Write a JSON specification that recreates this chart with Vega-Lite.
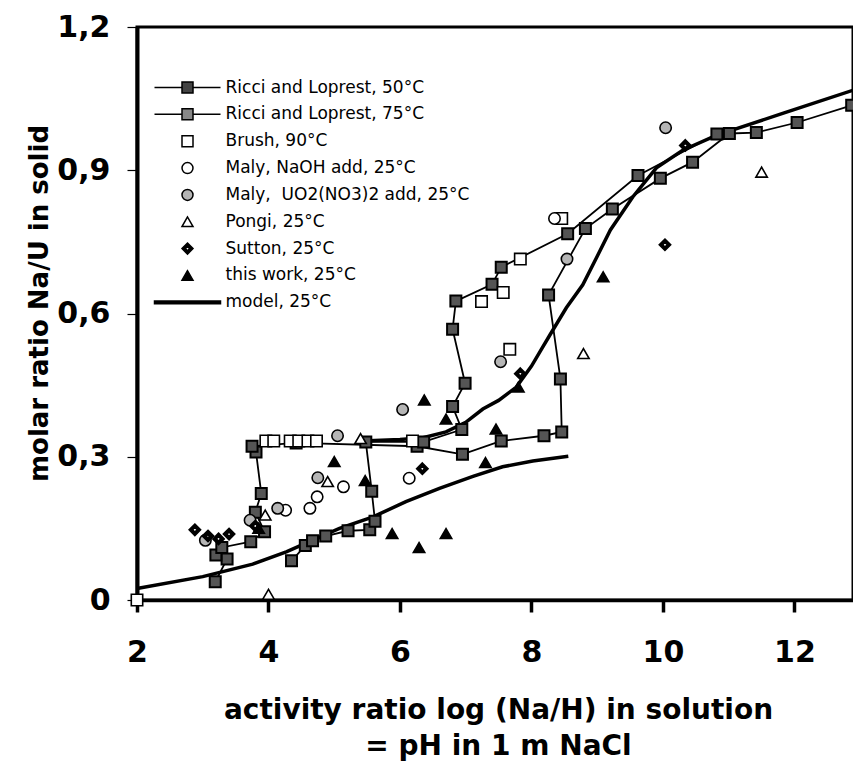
{
  "$schema": "https://vega.github.io/schema/vega-lite/v6.json",
  "width": 716,
  "height": 573,
  "autosize": {"type": "none"},
  "padding": {"left": 137, "top": 27, "right": 0, "bottom": 164},
  "background": "white",
  "config": {
    "view": {"stroke": "black", "strokeWidth": 3},
    "font": "DejaVu Sans",
    "axis": {"grid": false}
  },
  "datasets": {
    "ricci": [
      {"series": "Ricci and Loprest, 50°C", "i": 1, "x": 3.19, "y": 0.038},
      {"series": "Ricci and Loprest, 50°C", "i": 2, "x": 3.37, "y": 0.086},
      {"series": "Ricci and Loprest, 50°C", "i": 3, "x": 3.20, "y": 0.094},
      {"series": "Ricci and Loprest, 50°C", "i": 4, "x": 3.29, "y": 0.110},
      {"series": "Ricci and Loprest, 50°C", "i": 5, "x": 3.73, "y": 0.122},
      {"series": "Ricci and Loprest, 50°C", "i": 6, "x": 3.94, "y": 0.143},
      {"series": "Ricci and Loprest, 50°C", "i": 7, "x": 3.80, "y": 0.184},
      {"series": "Ricci and Loprest, 50°C", "i": 8, "x": 3.89, "y": 0.223},
      {"series": "Ricci and Loprest, 50°C", "i": 9, "x": 3.81, "y": 0.310},
      {"series": "Ricci and Loprest, 50°C", "i": 10, "x": 3.75, "y": 0.322},
      {"series": "Ricci and Loprest, 50°C", "i": 11, "x": 4.42, "y": 0.329},
      {"series": "Ricci and Loprest, 50°C", "i": 12, "x": 6.26, "y": 0.322},
      {"series": "Ricci and Loprest, 50°C", "i": 13, "x": 6.95, "y": 0.305},
      {"series": "Ricci and Loprest, 50°C", "i": 14, "x": 7.54, "y": 0.333},
      {"series": "Ricci and Loprest, 50°C", "i": 15, "x": 8.19, "y": 0.344},
      {"series": "Ricci and Loprest, 50°C", "i": 16, "x": 8.46, "y": 0.352},
      {"series": "Ricci and Loprest, 50°C", "i": 17, "x": 8.44, "y": 0.463},
      {"series": "Ricci and Loprest, 50°C", "i": 18, "x": 8.26, "y": 0.639},
      {"series": "Ricci and Loprest, 50°C", "i": 19, "x": 8.82, "y": 0.778},
      {"series": "Ricci and Loprest, 50°C", "i": 20, "x": 9.23, "y": 0.819},
      {"series": "Ricci and Loprest, 50°C", "i": 21, "x": 9.96, "y": 0.883},
      {"series": "Ricci and Loprest, 50°C", "i": 22, "x": 10.45, "y": 0.917},
      {"series": "Ricci and Loprest, 50°C", "i": 23, "x": 11.01, "y": 0.977},
      {"series": "Ricci and Loprest, 50°C", "i": 24, "x": 11.42, "y": 0.979},
      {"series": "Ricci and Loprest, 50°C", "i": 25, "x": 12.04, "y": 1.000},
      {"series": "Ricci and Loprest, 50°C", "i": 26, "x": 12.87, "y": 1.036},
      {"series": "Ricci and Loprest, 75°C", "i": 1, "x": 4.35, "y": 0.082},
      {"series": "Ricci and Loprest, 75°C", "i": 2, "x": 4.56, "y": 0.114},
      {"series": "Ricci and Loprest, 75°C", "i": 3, "x": 4.67, "y": 0.124},
      {"series": "Ricci and Loprest, 75°C", "i": 4, "x": 4.87, "y": 0.134},
      {"series": "Ricci and Loprest, 75°C", "i": 5, "x": 5.21, "y": 0.145},
      {"series": "Ricci and Loprest, 75°C", "i": 6, "x": 5.54, "y": 0.147},
      {"series": "Ricci and Loprest, 75°C", "i": 7, "x": 5.62, "y": 0.165},
      {"series": "Ricci and Loprest, 75°C", "i": 8, "x": 5.57, "y": 0.228},
      {"series": "Ricci and Loprest, 75°C", "i": 9, "x": 5.48, "y": 0.331},
      {"series": "Ricci and Loprest, 75°C", "i": 10, "x": 6.36, "y": 0.331},
      {"series": "Ricci and Loprest, 75°C", "i": 11, "x": 6.94, "y": 0.357},
      {"series": "Ricci and Loprest, 75°C", "i": 12, "x": 6.80, "y": 0.405},
      {"series": "Ricci and Loprest, 75°C", "i": 13, "x": 6.99, "y": 0.454},
      {"series": "Ricci and Loprest, 75°C", "i": 14, "x": 6.80, "y": 0.567},
      {"series": "Ricci and Loprest, 75°C", "i": 15, "x": 6.85, "y": 0.626},
      {"series": "Ricci and Loprest, 75°C", "i": 16, "x": 7.40, "y": 0.661},
      {"series": "Ricci and Loprest, 75°C", "i": 17, "x": 7.54, "y": 0.697},
      {"series": "Ricci and Loprest, 75°C", "i": 18, "x": 8.55, "y": 0.767},
      {"series": "Ricci and Loprest, 75°C", "i": 19, "x": 9.62, "y": 0.889},
      {"series": "Ricci and Loprest, 75°C", "i": 20, "x": 10.82, "y": 0.976}
    ],
    "model": [
      {"seg": "a", "i": 1, "x": 2.0, "y": 0.024},
      {"seg": "a", "i": 2, "x": 3.0, "y": 0.049},
      {"seg": "a", "i": 3, "x": 3.76, "y": 0.075},
      {"seg": "a", "i": 4, "x": 4.27, "y": 0.101},
      {"seg": "a", "i": 5, "x": 4.57, "y": 0.119},
      {"seg": "a", "i": 6, "x": 5.08, "y": 0.150},
      {"seg": "a", "i": 7, "x": 5.59, "y": 0.174},
      {"seg": "a", "i": 8, "x": 6.09, "y": 0.206},
      {"seg": "a", "i": 9, "x": 6.60, "y": 0.234},
      {"seg": "a", "i": 10, "x": 7.11, "y": 0.259},
      {"seg": "a", "i": 11, "x": 7.56, "y": 0.279},
      {"seg": "a", "i": 12, "x": 8.02, "y": 0.291},
      {"seg": "a", "i": 13, "x": 8.56, "y": 0.301},
      {"seg": "b", "i": 1, "x": 5.42, "y": 0.333},
      {"seg": "b", "i": 2, "x": 6.0, "y": 0.336},
      {"seg": "b", "i": 3, "x": 6.35, "y": 0.340},
      {"seg": "b", "i": 4, "x": 6.7, "y": 0.352},
      {"seg": "b", "i": 5, "x": 7.0, "y": 0.372},
      {"seg": "b", "i": 6, "x": 7.26, "y": 0.400},
      {"seg": "b", "i": 7, "x": 7.5, "y": 0.418},
      {"seg": "b", "i": 8, "x": 7.77, "y": 0.446},
      {"seg": "b", "i": 9, "x": 8.0, "y": 0.490},
      {"seg": "b", "i": 10, "x": 8.15, "y": 0.525},
      {"seg": "b", "i": 11, "x": 8.28, "y": 0.555},
      {"seg": "b", "i": 12, "x": 8.53, "y": 0.612},
      {"seg": "b", "i": 13, "x": 8.78, "y": 0.660},
      {"seg": "b", "i": 14, "x": 9.0, "y": 0.720},
      {"seg": "b", "i": 15, "x": 9.2, "y": 0.775},
      {"seg": "b", "i": 16, "x": 9.54, "y": 0.844},
      {"seg": "b", "i": 17, "x": 9.9, "y": 0.905},
      {"seg": "b", "i": 18, "x": 10.3, "y": 0.942},
      {"seg": "b", "i": 19, "x": 10.81, "y": 0.973},
      {"seg": "b", "i": 20, "x": 11.82, "y": 1.019},
      {"seg": "b", "i": 21, "x": 12.9, "y": 1.068}
    ],
    "pts": [
      {"series": "Brush, 90°C", "x": 2.0, "y": 0.0},
      {"series": "Brush, 90°C", "x": 3.96, "y": 0.333},
      {"series": "Brush, 90°C", "x": 4.08, "y": 0.333},
      {"series": "Brush, 90°C", "x": 4.33, "y": 0.333},
      {"series": "Brush, 90°C", "x": 4.46, "y": 0.333},
      {"series": "Brush, 90°C", "x": 4.60, "y": 0.333},
      {"series": "Brush, 90°C", "x": 4.73, "y": 0.333},
      {"series": "Brush, 90°C", "x": 6.19, "y": 0.333},
      {"series": "Brush, 90°C", "x": 7.24, "y": 0.625},
      {"series": "Brush, 90°C", "x": 7.57, "y": 0.644},
      {"series": "Brush, 90°C", "x": 7.83, "y": 0.714},
      {"series": "Brush, 90°C", "x": 7.67, "y": 0.525},
      {"series": "Brush, 90°C", "x": 8.46, "y": 0.799},
      {"series": "Maly, NaOH add, 25°C", "x": 4.26, "y": 0.188},
      {"series": "Maly, NaOH add, 25°C", "x": 4.63, "y": 0.192},
      {"series": "Maly, NaOH add, 25°C", "x": 4.74, "y": 0.216},
      {"series": "Maly, NaOH add, 25°C", "x": 5.14, "y": 0.237},
      {"series": "Maly, NaOH add, 25°C", "x": 6.14, "y": 0.255},
      {"series": "Maly, NaOH add, 25°C", "x": 8.35, "y": 0.799},
      {"series": "Maly, \u00a0UO2(NO3)2 add, 25°C", "x": 3.04, "y": 0.125},
      {"series": "Maly, \u00a0UO2(NO3)2 add, 25°C", "x": 3.72, "y": 0.167},
      {"series": "Maly, \u00a0UO2(NO3)2 add, 25°C", "x": 4.14, "y": 0.192},
      {"series": "Maly, \u00a0UO2(NO3)2 add, 25°C", "x": 4.75, "y": 0.256},
      {"series": "Maly, \u00a0UO2(NO3)2 add, 25°C", "x": 5.05, "y": 0.344},
      {"series": "Maly, \u00a0UO2(NO3)2 add, 25°C", "x": 6.04, "y": 0.399},
      {"series": "Maly, \u00a0UO2(NO3)2 add, 25°C", "x": 7.53, "y": 0.499},
      {"series": "Maly, \u00a0UO2(NO3)2 add, 25°C", "x": 8.54, "y": 0.714},
      {"series": "Maly, \u00a0UO2(NO3)2 add, 25°C", "x": 10.04, "y": 0.989},
      {"series": "Pongi, 25°C", "x": 3.95, "y": 0.178},
      {"series": "Pongi, 25°C", "x": 4.0, "y": 0.012},
      {"series": "Pongi, 25°C", "x": 4.90, "y": 0.248},
      {"series": "Pongi, 25°C", "x": 5.40, "y": 0.338},
      {"series": "Pongi, 25°C", "x": 8.79, "y": 0.516},
      {"series": "Pongi, 25°C", "x": 11.50, "y": 0.896},
      {"series": "Sutton, 25°C", "x": 2.88, "y": 0.147},
      {"series": "Sutton, 25°C", "x": 3.08, "y": 0.134},
      {"series": "Sutton, 25°C", "x": 3.24, "y": 0.128},
      {"series": "Sutton, 25°C", "x": 3.40, "y": 0.138},
      {"series": "Sutton, 25°C", "x": 3.80, "y": 0.155},
      {"series": "Sutton, 25°C", "x": 6.34, "y": 0.275},
      {"series": "Sutton, 25°C", "x": 7.83, "y": 0.474},
      {"series": "Sutton, 25°C", "x": 10.03, "y": 0.744},
      {"series": "Sutton, 25°C", "x": 10.34, "y": 0.952},
      {"series": "this work, 25°C", "x": 3.85, "y": 0.150},
      {"series": "this work, 25°C", "x": 5.00, "y": 0.290},
      {"series": "this work, 25°C", "x": 5.47, "y": 0.250},
      {"series": "this work, 25°C", "x": 5.88, "y": 0.139},
      {"series": "this work, 25°C", "x": 6.29, "y": 0.110},
      {"series": "this work, 25°C", "x": 6.70, "y": 0.139},
      {"series": "this work, 25°C", "x": 6.37, "y": 0.419},
      {"series": "this work, 25°C", "x": 6.70, "y": 0.379},
      {"series": "this work, 25°C", "x": 7.30, "y": 0.288},
      {"series": "this work, 25°C", "x": 7.46, "y": 0.358},
      {"series": "this work, 25°C", "x": 7.80, "y": 0.446},
      {"series": "this work, 25°C", "x": 9.09, "y": 0.677}
    ]
  },
  "encoding": {
    "x": {
      "field": "x",
      "type": "quantitative",
      "scale": {"domain": [2, 12.89], "nice": false, "zero": false},
      "axis": {
        "values": [2, 4, 6, 8, 10, 12],
        "format": "d",
        "labelFont": "DejaVu Sans",
        "labelFontWeight": "bold",
        "labelFontSize": 30,
        "labelColor": "black",
        "labelFlush": false,
        "labelOverlap": false,
        "labelPadding": 25,
        "tickSize": 12,
        "tickWidth": 3.5,
        "tickColor": "black",
        "domainColor": "black",
        "domainWidth": 3.5,
        "grid": false,
        "title": ["activity ratio log (Na/H) in solution", "= pH in 1 m NaCl"],
        "titleFont": "DejaVu Sans",
        "titleFontWeight": "bold",
        "titleFontSize": 28,
        "titleColor": "black",
        "titleX": 361,
        "titleY": 118,
        "titleAlign": "center",
        "titleBaseline": "alphabetic",
        "titleLineHeight": 36,
        "encode": {"ticks": {"update": {"y": {"value": -12}, "y2": {"value": 12}}}}
      }
    },
    "y": {
      "field": "y",
      "type": "quantitative",
      "scale": {"domain": [0, 1.2], "nice": false, "zero": false},
      "axis": {
        "values": [0, 0.3, 0.6, 0.9, 1.2],
        "labelExpr": "datum.value == 0 ? '0' : replace(format(datum.value, '.1f'), '.', ',')",
        "labelFont": "DejaVu Sans",
        "labelFontWeight": "bold",
        "labelFontSize": 30,
        "labelColor": "black",
        "labelFlush": false,
        "labelOverlap": false,
        "labelPadding": 17,
        "tickSize": 10,
        "tickWidth": 1.2,
        "tickColor": "black",
        "domainColor": "black",
        "domainWidth": 4,
        "grid": false,
        "title": "molar ratio Na/U in solid",
        "titleFont": "DejaVu Sans",
        "titleFontWeight": "bold",
        "titleFontSize": 26,
        "titleColor": "black",
        "titleAngle": 270,
        "titleX": -90,
        "titleY": 276,
        "titleAlign": "center",
        "titleBaseline": "alphabetic",
        "encode": {"ticks": {"update": {"x": {"value": 11}, "x2": {"value": -10}}}}
      }
    }
  },
  "layer": [
    {
      "data": {"name": "ricci"},
      "mark": {"type": "line", "stroke": "black", "strokeWidth": 1.8},
      "encoding": {"detail": {"field": "series"}, "order": {"field": "i", "type": "quantitative"}}
    },
    {
      "data": {"name": "model"},
      "mark": {"type": "line", "stroke": "black", "strokeWidth": 3.5},
      "encoding": {"detail": {"field": "seg"}, "order": {"field": "i", "type": "quantitative"}}
    },
    {
      "data": {"name": "ricci"},
      "mark": {"type": "point", "shape": "square", "filled": true, "fill": "#555", "stroke": "black", "strokeWidth": 2, "size": 121, "opacity": 1},
      "encoding": {}
    },
    {
      "data": {"name": "pts"},
      "mark": {"type": "point", "filled": true, "stroke": "black", "strokeWidth": 1.6, "size": 130, "opacity": 1},
      "encoding": {
        "shape": {
          "field": "series",
          "type": "nominal",
          "scale": {
            "domain": ["Ricci and Loprest, 50°C", "Ricci and Loprest, 75°C", "Brush, 90°C", "Maly, NaOH add, 25°C", "Maly, \u00a0UO2(NO3)2 add, 25°C", "Pongi, 25°C", "Sutton, 25°C", "this work, 25°C", "model, 25°C"],
            "range": ["M-6,0H-1M1,0H6M-1,-1H1V1H-1Z", "M-6,0H-1M1,0H6M-1,-1H1V1H-1Z", "square", "circle", "circle", "triangle-up", "M0,-1L1,0L0,1L-1,0ZM0,-0.4L-0.4,0L0,0.4L0.4,0Z", "triangle-up", "M-6,-0.25H6V0.25H-6Z"]
          },
          "legend": {
            "title": null,
            "orient": "none",
            "legendX": 42,
            "legendY": 52,
            "padding": 0,
            "rowPadding": 8.85,
            "symbolSize": 121,
            "symbolOffset": 0,
            "labelOffset": 29.5,
            "labelFont": "DejaVu Sans",
            "labelFontSize": 17,
            "labelColor": "black",
            "labelLimit": 400,
            "encode": {"symbols": {"update": {"stroke": {"value": "black"}, "strokeWidth": {"value": 1.6}, "opacity": {"value": 1}}}}
          }
        },
        "fill": {
          "field": "series",
          "type": "nominal",
          "scale": {
            "domain": ["Ricci and Loprest, 50°C", "Ricci and Loprest, 75°C", "Brush, 90°C", "Maly, NaOH add, 25°C", "Maly, \u00a0UO2(NO3)2 add, 25°C", "Pongi, 25°C", "Sutton, 25°C", "this work, 25°C", "model, 25°C"],
            "range": ["#444444", "#888888", "white", "white", "#b5b5b5", "white", "black", "black", "black"]
          },
          "legend": {
            "title": null,
            "orient": "none",
            "legendX": 42,
            "legendY": 52,
            "padding": 0,
            "rowPadding": 8.85,
            "symbolSize": 121,
            "symbolOffset": 0,
            "labelOffset": 29.5,
            "labelFont": "DejaVu Sans",
            "labelFontSize": 17,
            "labelColor": "black",
            "labelLimit": 400,
            "encode": {"symbols": {"update": {"stroke": {"value": "black"}, "strokeWidth": {"value": 1.6}, "opacity": {"value": 1}}}}
          }
        }
      }
    }
  ]
}
